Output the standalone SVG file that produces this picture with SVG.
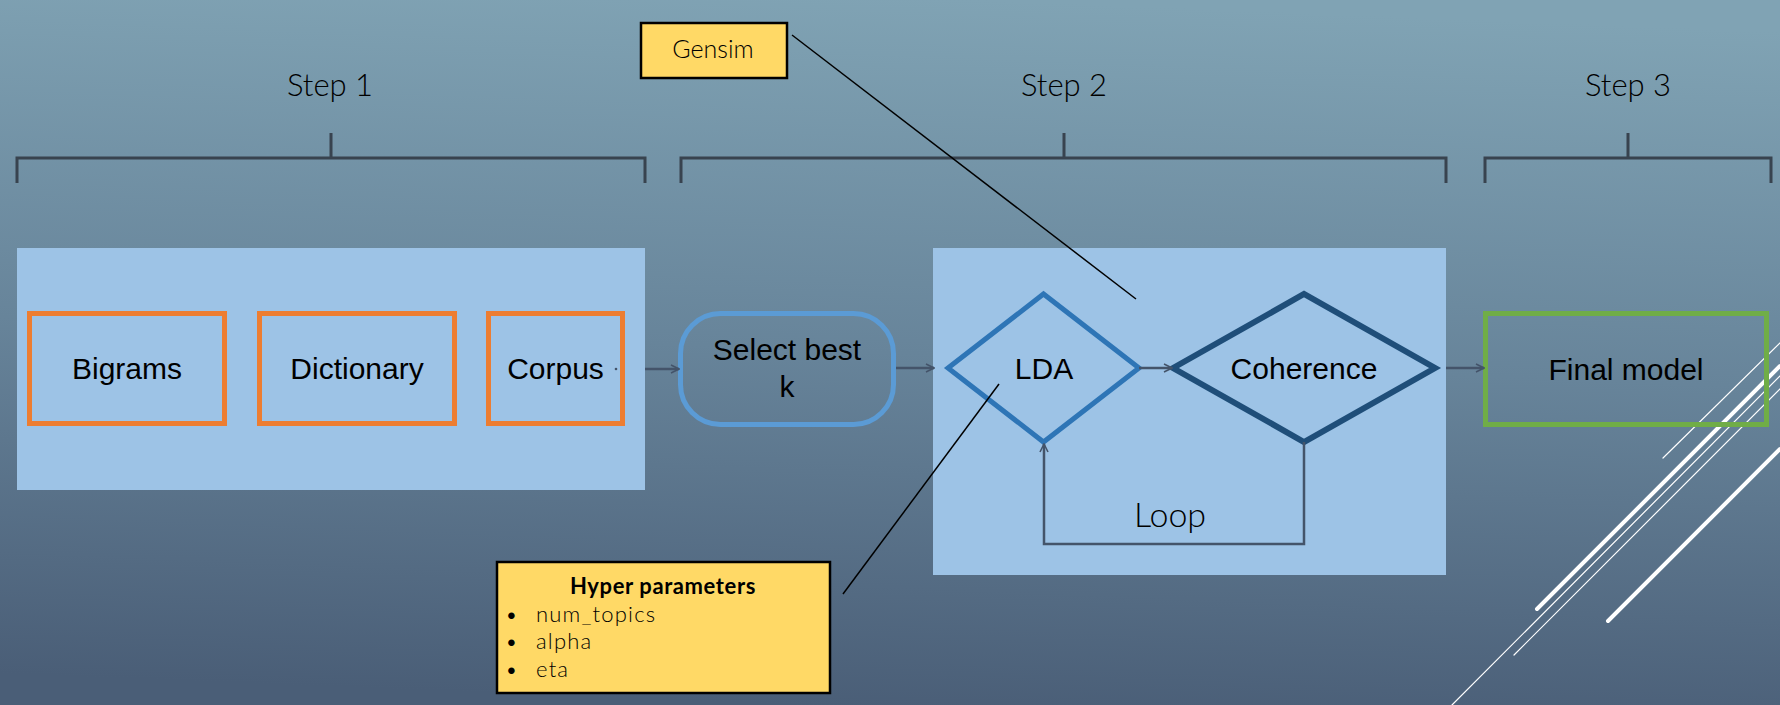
<svg xmlns="http://www.w3.org/2000/svg" width="1780" height="705" viewBox="0 0 1780 705">
  <defs>
    <linearGradient id="bg" x1="0.55" y1="0" x2="0.45" y2="1">
      <stop offset="0" stop-color="#80a3b4"/>
      <stop offset="0.5" stop-color="#67849a"/>
      <stop offset="1" stop-color="#4a5e77"/>
    </linearGradient>
    <marker id="arr" viewBox="0 0 10 10" refX="9" refY="5" markerWidth="4" markerHeight="4" orient="auto" markerUnits="strokeWidth">
      <path d="M1,1 L9,5 L1,9" fill="none" stroke="#44546a" stroke-width="1.6"/>
    </marker>
    <style>
      .step { font-family: Lato, "Liberation Sans", sans-serif; font-weight: 300; font-size: 31px; fill: #000; text-anchor: middle; }
      .brk { fill: none; stroke: #38434f; stroke-width: 3; }
      .panel { fill: #9dc3e6; }
      .obox { fill: none; stroke: #ed7d31; stroke-width: 5; }
      .lbl { font-family: "Liberation Sans", Arial, sans-serif; font-size: 30px; fill: #000; text-anchor: middle; }
      .conn { fill: none; stroke: #44546a; stroke-width: 2.5; }
      .note { fill: #ffd966; stroke: #000; stroke-width: 2.5; }
      .cg { font-family: Lato, "Liberation Sans", sans-serif; fill: #000; }
      .wl { stroke: #fff; stroke-linecap: round; }
    </style>
  </defs>

  <rect x="0" y="0" width="1780" height="705" fill="url(#bg)"/>

  <g id="decoration">
    <line class="wl" x1="1663" y1="458" x2="1780" y2="343" stroke-width="1.2"/>
    <line class="wl" x1="1537" y1="609" x2="1780" y2="366" stroke-width="4"/>
    <line class="wl" x1="1514" y1="655" x2="1780" y2="389" stroke-width="1.2"/>
    <line class="wl" x1="1452" y1="705" x2="1780" y2="376" stroke-width="1.2"/>
    <line class="wl" x1="1608" y1="621" x2="1780" y2="449" stroke-width="4"/>
  </g>

  <g id="step-labels">
    <text class="step" x="330" y="96">Step 1</text>
    <text class="step" x="1064" y="96">Step 2</text>
    <text class="step" x="1628" y="96">Step 3</text>
    <path class="brk" d="M17,183 V158 H645 V183 M331,133 V158"/>
    <path class="brk" d="M681,183 V158 H1446 V183 M1064,133 V158"/>
    <path class="brk" d="M1485,183 V158 H1771 V183 M1628,133 V158"/>
  </g>

  <g id="panel-step1"><rect class="panel" x="17" y="248" width="628" height="242"/></g>
  <g id="panel-step2"><rect class="panel" x="933" y="248" width="513" height="327"/></g>

  <g id="node-bigrams">
    <rect class="obox" x="29.5" y="313.5" width="195" height="110"/>
    <text class="lbl" x="127" y="379">Bigrams</text>
  </g>
  <g id="node-dictionary">
    <rect class="obox" x="259.5" y="313.5" width="195" height="110"/>
    <text class="lbl" x="357" y="379">Dictionary</text>
  </g>
  <g id="node-corpus">
    <rect class="obox" x="488.5" y="313.5" width="134" height="110"/>
    <text class="lbl" x="555.5" y="379">Corpus</text>
  </g>
  <g id="node-select">
    <rect x="680.5" y="313.5" width="213" height="111" rx="40" ry="40" fill="none" stroke="#5b9bd5" stroke-width="5"/>
    <text class="lbl" x="787" y="360">Select best</text>
    <text class="lbl" x="787" y="397">k</text>
  </g>
  <g id="node-lda">
    <polygon points="948,368 1043.5,294 1139,368 1043.5,442" fill="none" stroke="#2e75b6" stroke-width="5" stroke-linejoin="miter"/>
    <text class="lbl" x="1044" y="379">LDA</text>
  </g>
  <g id="node-coherence">
    <polygon points="1173,368 1304,294 1435,368 1304,442" fill="none" stroke="#1f4e79" stroke-width="6"/>
    <text class="lbl" x="1304" y="379">Coherence</text>
  </g>
  <g id="node-final">
    <rect x="1485.5" y="313.5" width="281" height="111" fill="none" stroke="#70ad47" stroke-width="5"/>
    <text class="lbl" x="1626" y="380">Final model</text>
  </g>

  <g id="connectors">
    <circle cx="616" cy="369" r="1.3" fill="#44546a"/>
    <line class="conn" x1="645" y1="369" x2="679" y2="369" marker-end="url(#arr)"/>
    <line class="conn" x1="896" y1="368" x2="934" y2="368" marker-end="url(#arr)"/>
    <line class="conn" x1="1139" y1="368" x2="1172" y2="368" marker-end="url(#arr)"/>
    <line class="conn" x1="1446" y1="368" x2="1484" y2="368" marker-end="url(#arr)"/>
    <path class="conn" d="M1304,442 V544 H1044 V444" marker-end="url(#arr)"/>
    <text class="cg" x="1170" y="527" font-size="34" font-weight="300" text-anchor="middle">Loop</text>
    <line x1="792" y1="35" x2="1136" y2="299" stroke="#000" stroke-width="1.5"/>
    <line x1="843" y1="594" x2="999" y2="384" stroke="#000" stroke-width="1.5"/>
  </g>

  <g id="note-gensim">
    <rect class="note" x="641" y="23" width="146" height="55"/>
    <text class="cg" x="713" y="58" font-size="25" font-weight="300" text-anchor="middle">Gensim</text>
  </g>

  <g id="note-hyper">
    <rect class="note" x="497" y="562" width="333" height="131"/>
    <text class="cg" x="663" y="594" font-size="22" font-weight="bold" letter-spacing="0.6" text-anchor="middle">Hyper parameters</text>
    <g class="cg" font-size="22" font-weight="300" letter-spacing="1.2">
      <text x="512" y="622" text-anchor="middle">•</text>
      <text x="536" y="622">num_topics</text>
      <text x="512" y="649" text-anchor="middle">•</text>
      <text x="536" y="649">alpha</text>
      <text x="512" y="677" text-anchor="middle">•</text>
      <text x="536" y="677">eta</text>
    </g>
  </g>
</svg>
